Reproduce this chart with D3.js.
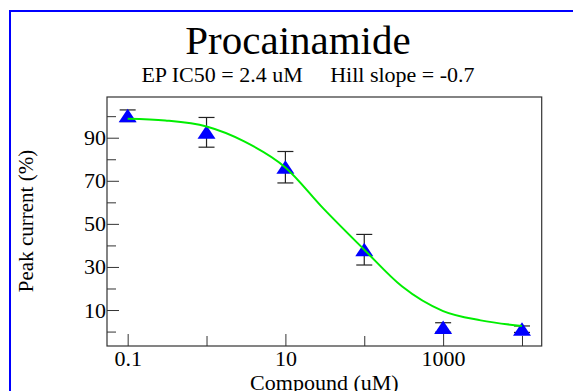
<!DOCTYPE html>
<html>
<head>
<meta charset="utf-8">
<script src="https://cdn.jsdelivr.net/npm/d3@7"></script>
<style>
  body { margin: 0; background: #fff; }
  svg { display: block; font-family: "Liberation Serif", "Times New Roman", serif; }
  .axis path { display: none; }
  .axis line { stroke: #333; }
  .axis text { font-family: "Liberation Serif", "Times New Roman", serif; font-size: 22px; fill: #000; }
</style>
</head>
<body>
<div class="chart"></div>
<script>
// data
const concentrations = [0.1, 1, 10, 100, 1000, 10000];
const peakCurrent = [100.2, 92.5, 76.3, 38.0, 1.9, 1.1];
const errors = [2.7, 6.9, 7.3, 7.1, 2.2, 1.5];
// fitted curve
const fitX = [0.1, 0.3, 1, 3, 10, 30, 100, 300, 1000, 3000, 10000];
const fitY = [98.8, 98.0, 95.2, 88.3, 76.2, 57.3, 38.0, 21.0, 9.5, 5.2, 2.6];
// ticks
const xMajorTicks = [0.1, 10, 1000];
const xMinorTicks = [1, 100, 10000];
const yMajorTicks = [10, 30, 50, 70, 90];
const yMinorTicks = [0, 20, 40, 60, 80, 100];

const title = 'Procainamide';
const subtitle = 'EP IC50 = 2.4 uM     Hill slope = -0.7';

const svg_width = 573, svg_height = 391;
const m = { top: 97, left: 107 };
const w = 434.7, h = 249;

const svg = d3.select('.chart').append('svg')
    .attr('width', svg_width).attr('height', svg_height);

// blue outer border
svg.append('rect').attr('x', 10).attr('y', 11).attr('width', 620).attr('height', 420)
    .attr('fill', '#fff').attr('stroke', '#0000ff').attr('stroke-width', 2);

// headers
svg.append('text').attr('x', 298).attr('y', 54).attr('text-anchor', 'middle')
    .style('font-size', '41px').text(title);
svg.append('text').attr('x', 308).attr('y', 81.5).attr('text-anchor', 'middle')
    .style('font-size', '22px').style('white-space', 'pre').text(subtitle);

const g = svg.append('g').attr('transform', `translate(${m.left},${m.top})`);

const xScale = d3.scaleLog().domain([0.0547, 17780]).range([0, w]);
const yScale = d3.scaleLinear().domain([-6.7, 108.9]).range([h, 0]);

// axes, ticks pointing inward
const fmtX = d => (d < 1 ? d3.format('.1f')(d) : d3.format('d')(d));
g.append('g').attr('class', 'x axis').attr('transform', `translate(0,${h})`)
    .call(d3.axisBottom(xScale).tickValues(xMajorTicks).tickFormat(fmtX)
        .tickSizeInner(-12).tickSizeOuter(0).tickPadding(4));
g.append('g').attr('class', 'x axis').attr('transform', `translate(0,${h})`)
    .call(d3.axisBottom(xScale).tickValues(xMinorTicks).tickFormat('')
        .tickSizeInner(-10).tickSizeOuter(0));
g.append('g').attr('class', 'y axis')
    .call(d3.axisLeft(yScale).tickValues(yMajorTicks).tickFormat(d3.format('d'))
        .tickSizeInner(-12).tickSizeOuter(0).tickPadding(1));
g.append('g').attr('class', 'y axis')
    .call(d3.axisLeft(yScale).tickValues(yMinorTicks).tickFormat('')
        .tickSizeInner(-9).tickSizeOuter(0));

// frame
g.append('rect').attr('width', w).attr('height', h)
    .attr('fill', 'none').attr('stroke', '#333').attr('stroke-width', 1.2);

// axis titles
svg.append('text').attr('x', m.left + w / 2).attr('y', 389.5).attr('text-anchor', 'middle')
    .style('font-size', '22px').text('Compound (uM)');
svg.append('text').attr('transform', `translate(33,221) rotate(-90)`).attr('text-anchor', 'middle')
    .style('font-size', '21px').text('Peak current (%)');

const points = concentrations.map((c, i) => ({ x: c, y: peakCurrent[i], e: errors[i] }));

// error bars
const eb = g.selectAll('.errbar').data(points).enter().append('g').attr('class', 'errbar')
    .attr('stroke', '#222').attr('stroke-width', 1.2);
eb.append('line').attr('x1', d => xScale(d.x)).attr('x2', d => xScale(d.x))
    .attr('y1', d => yScale(d.y + d.e)).attr('y2', d => yScale(d.y - d.e));
[1, -1].forEach(s => {
    eb.append('line').attr('x1', d => xScale(d.x) - 8).attr('x2', d => xScale(d.x) + 8)
        .attr('y1', d => yScale(d.y + s * d.e)).attr('y2', d => yScale(d.y + s * d.e));
});

// triangle markers
g.selectAll('.marker').data(points).enter().append('path').attr('class', 'marker')
    .attr('transform', d => `translate(${xScale(d.x)},${yScale(d.y)})`)
    .attr('d', 'M0,-7L9,6.5L-9,6.5Z')
    .attr('fill', '#0000ff');

// fitted curve
const curve = fitX.map((x, i) => ({ x, y: fitY[i] }));
g.append('path').datum(curve)
    .attr('fill', 'none').attr('stroke', '#00ee00').attr('stroke-width', 2)
    .attr('d', d3.line().x(d => xScale(d.x)).y(d => yScale(d.y)).curve(d3.curveMonotoneX));
</script>
</body>
</html>
